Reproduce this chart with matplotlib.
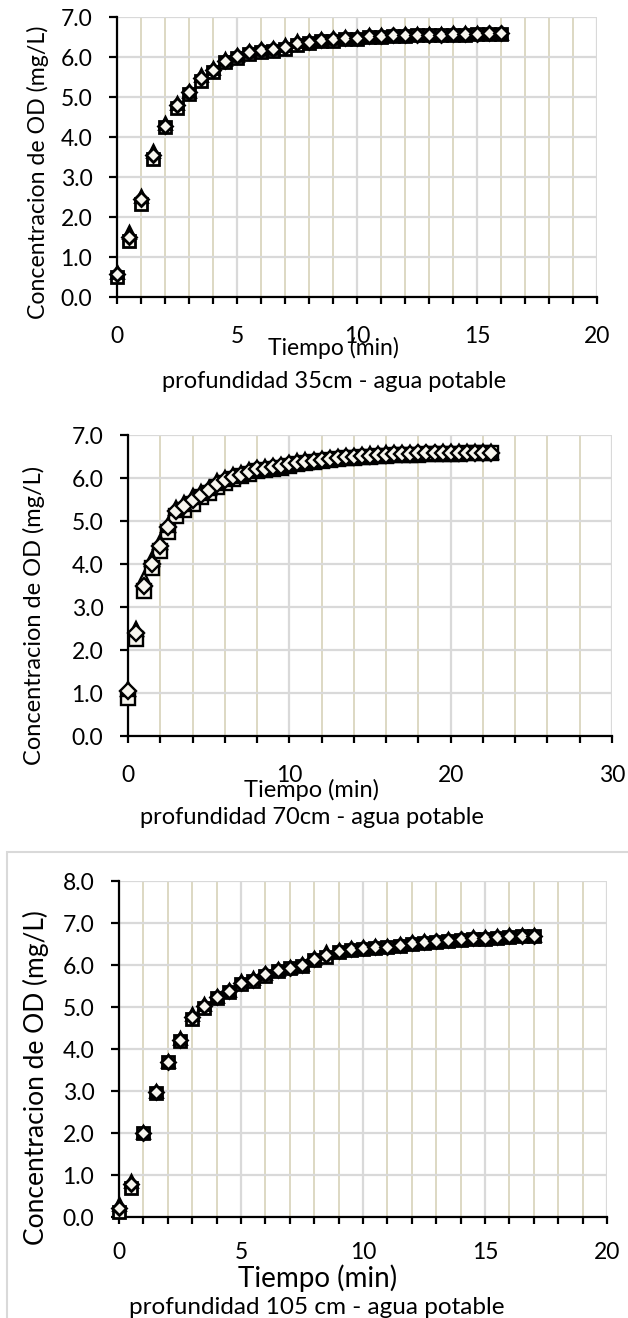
import numpy as np
import matplotlib
matplotlib.use("Agg")
from matplotlib import pyplot as plt
from matplotlib.patches import Rectangle
from matplotlib.ticker import MultipleLocator, FormatStrFormatter

plt.rcParams['font.family'] = ['Lato', 'DejaVu Sans']

# ---------------------------------------------------------------- data
# profundidad 35cm
t_35 = [0, 0.5, 1, 1.5, 2, 2.5, 3, 3.5, 4, 4.5, 5, 5.5, 6, 6.5, 7, 7.5, 8,
        8.5, 9, 9.5, 10, 10.5, 11, 11.5, 12, 12.5, 13, 13.5, 14, 14.5, 15,
        15.5, 16]
sq_35 = [0.50, 1.40, 2.33, 3.45, 4.24, 4.73, 5.07, 5.40, 5.62, 5.88, 5.98,
         6.07, 6.13, 6.16, 6.21, 6.30, 6.34, 6.39, 6.41, 6.45, 6.46, 6.49,
         6.51, 6.52, 6.53, 6.54, 6.54, 6.55, 6.56, 6.56, 6.57, 6.58, 6.58]
tri_35 = [0.62, 1.62, 2.52, 3.66, 4.34, 4.84, 5.16, 5.54, 5.72, 5.94, 6.06,
          6.16, 6.21, 6.23, 6.29, 6.39, 6.41, 6.46, 6.47, 6.50, 6.51, 6.55,
          6.56, 6.56, 6.57, 6.57, 6.58, 6.58, 6.59, 6.59, 6.60, 6.60, 6.61]
dia_35 = [0.58, 1.50, 2.44, 3.55, 4.28, 4.79, 5.12, 5.48, 5.68, 5.91, 6.02,
          6.12, 6.17, 6.19, 6.25, 6.34, 6.38, 6.42, 6.44, 6.47, 6.48, 6.52,
          6.53, 6.54, 6.55, 6.55, 6.56, 6.56, 6.57, 6.57, 6.58, 6.59, 6.60]

# profundidad 70cm
t_70 = [0, 0.5, 1, 1.5, 2, 2.5, 3, 3.5, 4, 4.5, 5, 5.5, 6, 6.5, 7, 7.5, 8,
        8.5, 9, 9.5, 10, 10.5, 11, 11.5, 12, 12.5, 13, 13.5, 14, 14.5, 15,
        15.5, 16, 16.5, 17, 17.5, 18, 18.5, 19, 19.5, 20, 20.5, 21, 21.5,
        22, 22.5]
sq_70 = [0.88, 2.25, 3.38, 3.90, 4.30, 4.75, 5.12, 5.25, 5.40, 5.55, 5.65,
         5.78, 5.88, 5.98, 6.04, 6.10, 6.17, 6.19, 6.21, 6.24, 6.28, 6.33,
         6.36, 6.38, 6.40, 6.42, 6.44, 6.46, 6.47, 6.49, 6.50, 6.51, 6.52,
         6.53, 6.53, 6.54, 6.54, 6.55, 6.55, 6.56, 6.56, 6.56, 6.57, 6.57,
         6.57, 6.57]
tri_70 = [1.10, 2.50, 3.65, 4.12, 4.52, 4.90, 5.30, 5.42, 5.58, 5.67, 5.77,
          5.92, 6.01, 6.06, 6.11, 6.19, 6.24, 6.26, 6.28, 6.31, 6.36, 6.39,
          6.41, 6.43, 6.45, 6.47, 6.49, 6.51, 6.52, 6.54, 6.55, 6.56, 6.57,
          6.57, 6.58, 6.58, 6.59, 6.59, 6.59, 6.60, 6.60, 6.60, 6.61, 6.61,
          6.61, 6.61]
dia_70 = [1.05, 2.40, 3.50, 4.00, 4.42, 4.85, 5.24, 5.35, 5.50, 5.61, 5.71,
          5.86, 5.95, 6.02, 6.08, 6.15, 6.20, 6.22, 6.25, 6.28, 6.32, 6.36,
          6.38, 6.40, 6.42, 6.45, 6.47, 6.49, 6.50, 6.51, 6.52, 6.53, 6.54,
          6.55, 6.56, 6.56, 6.57, 6.57, 6.57, 6.58, 6.58, 6.58, 6.59, 6.59,
          6.59, 6.59]

# profundidad 105cm
t_105 = [0, 0.5, 1, 1.5, 2, 2.5, 3, 3.5, 4, 4.5, 5, 5.5, 6, 6.5, 7, 7.5, 8,
         8.5, 9, 9.5, 10, 10.5, 11, 11.5, 12, 12.5, 13, 13.5, 14, 14.5, 15,
         15.5, 16, 16.5, 17]
sq_105 = [0.12, 0.70, 1.99, 2.96, 3.68, 4.20, 4.72, 4.98, 5.22, 5.35, 5.55,
          5.62, 5.75, 5.85, 5.92, 5.98, 6.12, 6.20, 6.30, 6.35, 6.37, 6.40,
          6.42, 6.46, 6.50, 6.53, 6.55, 6.58, 6.59, 6.62, 6.63, 6.64, 6.67,
          6.68, 6.68]
tri_105 = [0.32, 0.86, 2.03, 3.01, 3.72, 4.26, 4.84, 5.06, 5.27, 5.40, 5.61,
           5.68, 5.80, 5.90, 5.96, 6.03, 6.17, 6.30, 6.36, 6.40, 6.42, 6.45,
           6.46, 6.50, 6.54, 6.57, 6.58, 6.62, 6.63, 6.66, 6.67, 6.68, 6.71,
           6.72, 6.72]
dia_105 = [0.22, 0.78, 2.00, 2.98, 3.70, 4.22, 4.77, 5.02, 5.25, 5.38, 5.58,
           5.65, 5.78, 5.88, 5.94, 6.00, 6.15, 6.25, 6.33, 6.38, 6.40, 6.42,
           6.44, 6.48, 6.52, 6.55, 6.56, 6.60, 6.61, 6.64, 6.65, 6.66, 6.69,
           6.70, 6.70]

titles = ["profundidad 35cm - agua potable",
          "profundidad 70cm - agua potable",
          "profundidad 105 cm - agua potable"]
ylabel = "Concentracion de OD (mg/L)"
xlabel = "Tiempo (min)"

# ---------------------------------------------------------------- layout
W, H = 628, 1318
fig = plt.figure(figsize=(W / 100, H / 100), dpi=100)


def box(left, right, top, bottom):
    return [left / W, 1 - bottom / H, (right - left) / W, (bottom - top) / H]


def px(x, y):
    return x / W, 1 - y / H


GRID = "#d9d9d9"
TAN = "#ddd8c3"


def make_panel(rect, t, series, xmax, xmaj, xmin, ymax, ms, mew, xpad):
    ax = fig.add_axes(rect)
    ax.set_xlim(0, xmax)
    ax.set_ylim(0, ymax)
    ax.xaxis.set_major_locator(MultipleLocator(xmaj))
    ax.xaxis.set_minor_locator(MultipleLocator(xmin))
    ax.yaxis.set_major_locator(MultipleLocator(1))
    ax.yaxis.set_major_formatter(FormatStrFormatter("%.1f"))
    ax.grid(True, which="minor", axis="x", color=TAN, lw=1.4, zorder=0)
    ax.grid(True, which="major", axis="x", color=GRID, lw=1.6, zorder=0)
    ax.grid(True, which="major", axis="y", color=GRID, lw=1.6, zorder=0)
    ax.set_axisbelow(True)
    for s in ["top", "right"]:
        ax.spines[s].set_visible(False)
    for s in ["left", "bottom"]:
        ax.spines[s].set_linewidth(1.6)
        ax.spines[s].set_color("black")
    ax.tick_params(axis="x", which="both", direction="out", length=5,
                   width=1.6, color="black", labelsize=16.5, pad=xpad)
    ax.tick_params(axis="y", which="both", direction="out", length=5.8,
                   width=1.6, color="black", labelsize=16.5, pad=12)
    for ys, mk in zip(series, ["s", "^", "D"]):
        msz = ms * 0.8 if mk == "D" else ms
        ax.plot(t, ys, linestyle="none", marker=mk, markersize=msz,
                markerfacecolor="#f7f5ee", markeredgecolor="black",
                markeredgewidth=mew, clip_on=False, zorder=3)
    return ax


# panel 1
make_panel(box(117, 597, 17, 297), t_35, [sq_35, tri_35, dia_35],
           20, 5, 1, 7, 8.5, 2.0, 16)
fig.text(*px(38, 172), ylabel, rotation=90, ha="center", va="center",
         fontsize=16.7)
fig.text(*px(333, 348), xlabel, ha="center", va="center", fontsize=16.5)
fig.text(*px(334, 381), titles[0], ha="center", va="center", fontsize=17)

# panel 2
make_panel(box(128, 612, 435, 736), t_70, [sq_70, tri_70, dia_70],
           30, 10, 2, 7, 10, 1.7, 16)
fig.text(*px(34, 615), ylabel, rotation=90, ha="center", va="center",
         fontsize=17)
fig.text(*px(312, 790), xlabel, ha="center", va="center", fontsize=17)
fig.text(*px(312, 817), titles[1], ha="center", va="center", fontsize=17)

# panel 3 (with chart frame)
fig.patches.append(Rectangle(px(7, 1400), (W + 50) / W, (1400 - 852) / H,
                             transform=fig.transFigure, fill=False,
                             edgecolor=GRID, lw=1.5))
make_panel(box(119, 607, 881, 1217), t_105, [sq_105, tri_105, dia_105],
           20, 5, 1, 8, 9, 2.0, 13)
fig.text(*px(36, 1078), ylabel, rotation=90, ha="center", va="center",
         fontsize=19)
fig.text(*px(318, 1278), xlabel, ha="center", va="center", fontsize=20)
fig.text(*px(317, 1307), titles[2], ha="center", va="center", fontsize=17.5)

fig.savefig("out.png", dpi=100)
